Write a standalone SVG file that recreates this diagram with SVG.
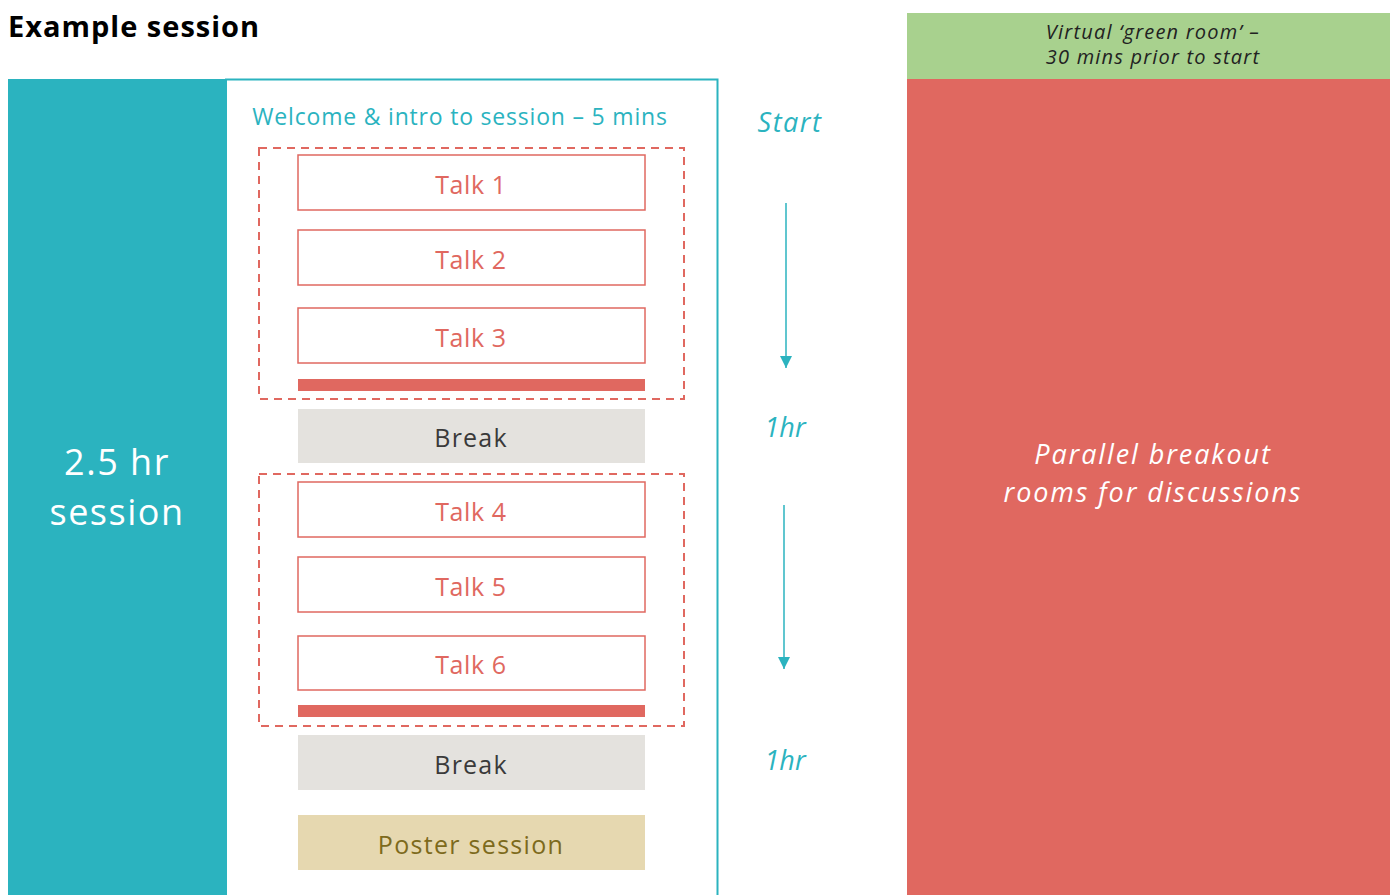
<svg xmlns="http://www.w3.org/2000/svg" width="1390" height="895" viewBox="0 0 1390 895">
<style>
.f{font-family:"Open Sans","Liberation Sans",sans-serif}
.talk{fill:#fff;stroke:#e06860;stroke-width:1.5}
.talkt{fill:#e06860;font-size:25px;letter-spacing:0.6px;text-anchor:middle}
.dash{fill:none;stroke:#e06860;stroke-width:2;stroke-dasharray:8 6}
.bar{fill:#e06860}
.brk{fill:#e4e2de}
.brkt{fill:#3a3a3a;font-size:25px;letter-spacing:1.2px;text-anchor:middle}
.time{fill:#2bb3bf;font-size:27px;font-style:italic;text-anchor:middle}
.arr{stroke:#2bb3bf;stroke-width:1.5;fill:none}
</style>
<defs>
<marker id="ah" viewBox="0 0 10 10" refX="10" refY="5" markerWidth="12" markerHeight="12" markerUnits="userSpaceOnUse" orient="auto">
<path d="M0,0 L10,5 L0,10 z" fill="#2bb3bf"/>
</marker>
</defs>
<rect width="1390" height="895" fill="#fff"/>
<text class="f" x="8" y="37" font-size="29" font-weight="bold" letter-spacing="1" fill="#000">Example session</text>

<g id="session-panel">
<rect x="8" y="79" width="218" height="816" fill="#2bb3bf"/>
<text class="f" x="117" y="475" font-size="36" letter-spacing="1.5" fill="#fff" text-anchor="middle">2.5 hr</text>
<text class="f" x="117" y="525" font-size="36" letter-spacing="1.5" fill="#fff" text-anchor="middle">session</text>
</g>

<g id="schedule-box">
<rect x="226" y="79.5" width="491.5" height="830" fill="#fff" stroke="#2bb3bf" stroke-width="2"/>
<text class="f" x="460" y="125" font-size="23" letter-spacing="0.8" fill="#2bb3bf" text-anchor="middle">Welcome &amp; intro to session – 5 mins</text>
</g>

<g id="block1">
<rect class="dash" x="259" y="148" width="425" height="251"/>
<rect class="bar" x="298" y="379" width="347" height="12"/>
</g>
<g id="talk1"><rect class="talk" x="298" y="155" width="347" height="55"/><text class="f talkt" x="471" y="194">Talk 1</text></g>
<g id="talk2"><rect class="talk" x="298" y="230" width="347" height="55"/><text class="f talkt" x="471" y="269">Talk 2</text></g>
<g id="talk3"><rect class="talk" x="298" y="308" width="347" height="55"/><text class="f talkt" x="471" y="347">Talk 3</text></g>
<g id="break1"><rect class="brk" x="298" y="409" width="347" height="54"/><text class="f brkt" x="471" y="447">Break</text></g>

<g id="block2">
<rect class="dash" x="259" y="474" width="425" height="252"/>
<rect class="bar" x="298" y="705" width="347" height="12"/>
</g>
<g id="talk4"><rect class="talk" x="298" y="482" width="347" height="55"/><text class="f talkt" x="471" y="521">Talk 4</text></g>
<g id="talk5"><rect class="talk" x="298" y="557" width="347" height="55"/><text class="f talkt" x="471" y="596">Talk 5</text></g>
<g id="talk6"><rect class="talk" x="298" y="636" width="347" height="54"/><text class="f talkt" x="471" y="674">Talk 6</text></g>
<g id="break2"><rect class="brk" x="298" y="735" width="347" height="55"/><text class="f brkt" x="471" y="774">Break</text></g>
<g id="poster"><rect x="298" y="815" width="347" height="55" fill="#e6d8b0"/><text class="f" x="471" y="854" font-size="25" letter-spacing="1.3" fill="#7d6a1c" text-anchor="middle">Poster session</text></g>

<g id="timeline">
<text class="f time" x="790" y="132" font-size="28" letter-spacing="1.5">Start</text>
<text class="f time" x="785" y="437">1hr</text>
<text class="f time" x="785" y="770">1hr</text>
</g>

<g id="connectors">
<line class="arr" x1="786" y1="203" x2="786" y2="368" marker-end="url(#ah)"/>
<line class="arr" x1="784" y1="505" x2="784" y2="669" marker-end="url(#ah)"/>
</g>

<g id="green-room">
<rect x="907" y="13" width="483" height="66" fill="#a8d18e"/>
<text class="f" x="1153" y="39" font-size="20" font-style="italic" letter-spacing="1.2" fill="#222" text-anchor="middle">Virtual ‘green room’ –</text>
<text class="f" x="1153" y="64" font-size="20" font-style="italic" letter-spacing="1.2" fill="#222" text-anchor="middle">30 mins prior to start</text>
</g>

<g id="breakout">
<rect x="907" y="79" width="483" height="816" fill="#e06860"/>
<text class="f" x="1153" y="464" font-size="27" font-style="italic" letter-spacing="1.9" fill="#fff" text-anchor="middle">Parallel breakout</text>
<text class="f" x="1153" y="502" font-size="27" font-style="italic" letter-spacing="1.9" fill="#fff" text-anchor="middle">rooms for discussions</text>
</g>
</svg>
